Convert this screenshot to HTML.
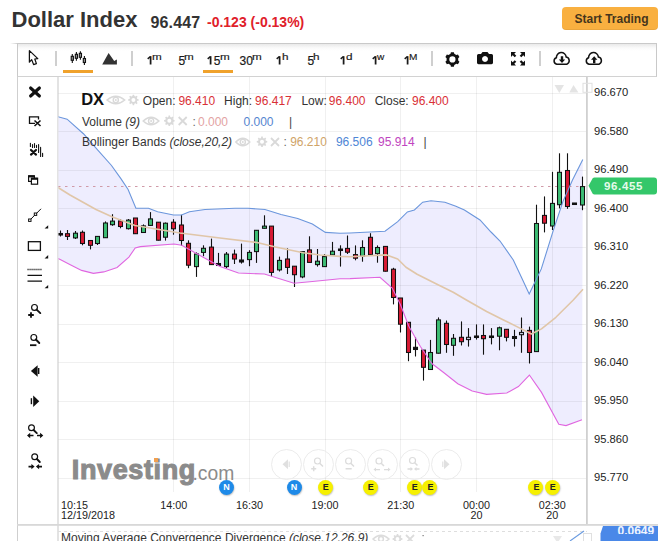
<!DOCTYPE html>
<html><head><meta charset="utf-8">
<style>
*{margin:0;padding:0;box-sizing:border-box}
html,body{width:658px;height:541px;overflow:hidden;background:#fff;font-family:"Liberation Sans",sans-serif;color:#222}
.a{position:absolute;white-space:nowrap;line-height:1}
.b{font-weight:bold}
#tb{position:absolute;left:17px;top:43px;width:640px;height:34px;border:1px solid #c9c9c9;border-bottom:1.5px solid #d2d2d2;background:linear-gradient(#e9e9e9 0px,#fafafa 4px,#fff 7px)}
.sep{position:absolute;top:51px;width:2px;height:15px;background:#cfcfcf}
.tf{position:absolute;top:54.6px;font-size:12px;line-height:1;color:#1a1a1a;white-space:nowrap;-webkit-text-stroke:0.2px #1a1a1a}
.tf sup{font-size:9px;vertical-align:baseline;position:relative;top:-5px;display:inline-block;transform:scaleX(1.3);transform-origin:0 50%;line-height:1;margin-left:-0.8px;-webkit-text-stroke:0.15px #1a1a1a}
.ul{position:absolute;top:70px;height:2.5px;background:#f0a22c}
.one{display:inline-block;width:6.67px;height:8.5px;position:relative;-webkit-text-stroke:0}
.one svg{position:absolute;left:0;top:0;overflow:visible}
.pl{position:absolute;left:594px;font-size:11.2px;line-height:1;color:#222}
.tl{position:absolute;font-size:10.8px;line-height:0.9;color:#222;text-align:center}
.ev{position:absolute;width:15px;height:15px;border-radius:50%;font-size:9px;font-weight:bold;line-height:15px;text-align:center;top:479.5px;box-shadow:0.5px 1px 1.5px rgba(0,0,0,0.25)}
.evE{background:#f6f000;color:#222;text-indent:1.5px}
.evN{background:#1e8ae8;color:#fff}
.nb{position:absolute;top:449px;width:31px;height:31px;border-radius:50%;border:1px solid #ececec;background:rgba(255,255,255,0.3)}
</style></head><body>
<!-- header -->
<div class="a b" style="left:11.5px;top:9px;font-size:22px;color:#333">Dollar Index</div>
<div class="a b" style="left:150.5px;top:15.4px;font-size:16px;color:#333;letter-spacing:0.15px">96.447</div>
<div class="a b" style="left:207px;top:14.9px;font-size:14px;color:#e0202a">-0.123 (-0.13%)</div>
<div style="position:absolute;left:562px;top:7px;width:95.5px;height:23px;border-radius:4px;background:#f9b040;box-shadow:inset 0 -1px 0 rgba(0,0,0,0.06)"></div>
<div class="a b" style="left:574.5px;top:13.2px;font-size:12px;color:#45351c">Start Trading</div>

<!-- outer left border -->
<div style="position:absolute;left:17px;top:43px;width:1px;height:498px;background:#cfcfcf"></div>
<div style="position:absolute;left:57px;top:77px;width:1.5px;height:464px;background:#e3e3e3"></div>
<div id="tb"></div>
<div style="position:absolute;left:10px;top:43px;width:8px;height:1px;background:linear-gradient(90deg,rgba(200,200,200,0),#c9c9c9)"></div>

<!-- chart svg -->
<svg style="position:absolute;left:0;top:0" width="658" height="541" viewBox="0 0 658 541">
<defs><clipPath id="cp"><rect x="58" y="77" width="529" height="447"/></clipPath></defs>
<g clip-path="url(#cp)">
<polygon points="58.0,116.8 67.1,119.2 83.7,134.0 96.7,148.8 111.5,165.5 120.7,178.4 128.1,189.5 135.9,208.3 148.5,208.3 157.6,211.7 173.5,215.0 181.5,215.0 189.5,211.7 205.0,209.5 235.0,208.2 248.0,208.3 265.0,209.5 281.0,214.5 297.7,218.5 312.4,224.0 325.4,232.4 340.0,233.3 350.0,233.0 385.0,231.3 397.7,221.6 407.4,211.9 414.4,210.0 422.7,202.2 431.0,200.8 444.9,202.2 455.9,206.3 464.4,210.0 480.0,220.0 491.0,232.0 500.0,241.0 513.3,260.0 522.0,278.5 529.2,294.0 541.3,268.9 553.3,230.4 562.9,201.6 572.5,180.0 582.8,159.6 582.0,419.8 566.0,425.6 558.8,424.2 541.5,392.4 529.4,375.0 518.4,386.6 506.8,393.0 486.6,394.4 472.2,391.0 457.8,383.7 443.3,372.2 431.8,363.5 420.2,346.2 408.7,326.0 400.5,304.8 392.2,288.1 380.0,277.3 350.0,278.6 340.0,278.8 312.4,281.5 294.0,283.2 264.4,274.0 238.5,273.0 220.0,266.5 205.0,258.3 181.7,245.3 174.0,244.0 140.3,246.6 135.2,248.0 128.9,257.1 117.1,267.5 103.8,271.9 93.4,273.4 81.6,270.4 69.8,264.5 60.2,259.6 58.0,258.5" fill="#eeedfe"/>
<line x1="58" y1="93.5" x2="587" y2="93.5" stroke="#000" stroke-opacity="0.06" stroke-width="1"/>
<line x1="58" y1="131.5" x2="587" y2="131.5" stroke="#000" stroke-opacity="0.06" stroke-width="1"/>
<line x1="58" y1="170.5" x2="587" y2="170.5" stroke="#000" stroke-opacity="0.06" stroke-width="1"/>
<line x1="58" y1="208.5" x2="587" y2="208.5" stroke="#000" stroke-opacity="0.06" stroke-width="1"/>
<line x1="58" y1="247.5" x2="587" y2="247.5" stroke="#000" stroke-opacity="0.06" stroke-width="1"/>
<line x1="58" y1="285.5" x2="587" y2="285.5" stroke="#000" stroke-opacity="0.06" stroke-width="1"/>
<line x1="58" y1="324.5" x2="587" y2="324.5" stroke="#000" stroke-opacity="0.06" stroke-width="1"/>
<line x1="58" y1="362.5" x2="587" y2="362.5" stroke="#000" stroke-opacity="0.06" stroke-width="1"/>
<line x1="58" y1="401.5" x2="587" y2="401.5" stroke="#000" stroke-opacity="0.06" stroke-width="1"/>
<line x1="58" y1="439.5" x2="587" y2="439.5" stroke="#000" stroke-opacity="0.06" stroke-width="1"/>
<line x1="58" y1="478.5" x2="587" y2="478.5" stroke="#000" stroke-opacity="0.06" stroke-width="1"/>
<line x1="173.5" y1="77" x2="173.5" y2="492" stroke="#000" stroke-opacity="0.06" stroke-width="1"/>
<line x1="249.5" y1="77" x2="249.5" y2="492" stroke="#000" stroke-opacity="0.06" stroke-width="1"/>
<line x1="325.5" y1="77" x2="325.5" y2="492" stroke="#000" stroke-opacity="0.06" stroke-width="1"/>
<line x1="400.5" y1="77" x2="400.5" y2="492" stroke="#000" stroke-opacity="0.06" stroke-width="1"/>
<line x1="476.5" y1="77" x2="476.5" y2="492" stroke="#000" stroke-opacity="0.06" stroke-width="1"/>
<line x1="552.5" y1="77" x2="552.5" y2="492" stroke="#000" stroke-opacity="0.06" stroke-width="1"/>
<line x1="58" y1="186.5" x2="587" y2="186.5" stroke="#d09aa8" stroke-width="1.2" stroke-dasharray="2.5,4.5"/>
<line x1="60.5" y1="230.5" x2="60.5" y2="236.5" stroke="#111" stroke-width="1.1"/>
<rect x="58.5" y="233.5" width="4" height="1.5" fill="#111" stroke="#111" stroke-width="1.05"/>
<line x1="67.5" y1="230.0" x2="67.5" y2="240.0" stroke="#111" stroke-width="1.1"/>
<rect x="65.5" y="233.7" width="4" height="2.7" fill="#d81a34" stroke="#111" stroke-width="1.05"/>
<line x1="75.5" y1="231.0" x2="75.5" y2="239.0" stroke="#111" stroke-width="1.1"/>
<rect x="73.5" y="233.2" width="4" height="4.7" fill="#3dbd74" stroke="#111" stroke-width="1.05"/>
<line x1="82.5" y1="230.5" x2="82.5" y2="245.3" stroke="#111" stroke-width="1.1"/>
<rect x="80.5" y="232.3" width="4" height="11.2" fill="#d81a34" stroke="#111" stroke-width="1.05"/>
<line x1="90.5" y1="240.0" x2="90.5" y2="249.4" stroke="#111" stroke-width="1.1"/>
<rect x="88.5" y="240.5" width="4" height="4.8" fill="#d81a34" stroke="#111" stroke-width="1.05"/>
<line x1="97.5" y1="236.0" x2="97.5" y2="245.0" stroke="#111" stroke-width="1.1"/>
<rect x="95.5" y="236.4" width="4" height="7.1" fill="#3dbd74" stroke="#111" stroke-width="1.05"/>
<line x1="105.5" y1="221.4" x2="105.5" y2="237.7" stroke="#111" stroke-width="1.1"/>
<rect x="103.5" y="223.0" width="4" height="14.7" fill="#3dbd74" stroke="#111" stroke-width="1.05"/>
<line x1="112.5" y1="214.2" x2="112.5" y2="225.8" stroke="#111" stroke-width="1.1"/>
<rect x="110.5" y="221.1" width="4" height="3.6" fill="#3dbd74" stroke="#111" stroke-width="1.05"/>
<line x1="120.5" y1="219.0" x2="120.5" y2="228.3" stroke="#111" stroke-width="1.1"/>
<rect x="118.5" y="220.9" width="4" height="5.6" fill="#d81a34" stroke="#111" stroke-width="1.05"/>
<line x1="128.5" y1="219.0" x2="128.5" y2="229.5" stroke="#111" stroke-width="1.1"/>
<rect x="126.5" y="220.1" width="4" height="8.6" fill="#3dbd74" stroke="#111" stroke-width="1.05"/>
<line x1="135.5" y1="218.0" x2="135.5" y2="234.0" stroke="#111" stroke-width="1.1"/>
<rect x="133.5" y="218.0" width="4" height="15.7" fill="#d81a34" stroke="#111" stroke-width="1.05"/>
<line x1="143.5" y1="224.4" x2="143.5" y2="233.0" stroke="#111" stroke-width="1.1"/>
<rect x="141.5" y="225.9" width="4" height="6.6" fill="#3dbd74" stroke="#111" stroke-width="1.05"/>
<line x1="150.5" y1="212.1" x2="150.5" y2="226.0" stroke="#111" stroke-width="1.1"/>
<rect x="148.5" y="218.9" width="4" height="6.5" fill="#3dbd74" stroke="#111" stroke-width="1.05"/>
<line x1="158.5" y1="222.0" x2="158.5" y2="240.5" stroke="#111" stroke-width="1.1"/>
<rect x="156.5" y="222.2" width="4" height="18.0" fill="#d81a34" stroke="#111" stroke-width="1.05"/>
<line x1="165.5" y1="222.5" x2="165.5" y2="240.6" stroke="#111" stroke-width="1.1"/>
<rect x="163.5" y="223.2" width="4" height="14.0" fill="#3dbd74" stroke="#111" stroke-width="1.05"/>
<line x1="173.5" y1="219.2" x2="173.5" y2="234.7" stroke="#111" stroke-width="1.1"/>
<rect x="171.5" y="222.2" width="4" height="6.6" fill="#d81a34" stroke="#111" stroke-width="1.05"/>
<line x1="181.5" y1="214.8" x2="181.5" y2="245.8" stroke="#111" stroke-width="1.1"/>
<rect x="179.5" y="225.0" width="4" height="15.5" fill="#d81a34" stroke="#111" stroke-width="1.05"/>
<line x1="188.5" y1="240.3" x2="188.5" y2="268.2" stroke="#111" stroke-width="1.1"/>
<rect x="186.5" y="243.3" width="4" height="21.9" fill="#d81a34" stroke="#111" stroke-width="1.05"/>
<line x1="196.5" y1="252.4" x2="196.5" y2="276.9" stroke="#111" stroke-width="1.1"/>
<rect x="194.5" y="254.0" width="4" height="12.6" fill="#3dbd74" stroke="#111" stroke-width="1.05"/>
<line x1="203.5" y1="245.3" x2="203.5" y2="256.2" stroke="#111" stroke-width="1.1"/>
<rect x="201.5" y="248.3" width="4" height="4.1" fill="#3dbd74" stroke="#111" stroke-width="1.05"/>
<line x1="211.5" y1="238.6" x2="211.5" y2="265.0" stroke="#111" stroke-width="1.1"/>
<rect x="209.5" y="247.1" width="4" height="17.5" fill="#d81a34" stroke="#111" stroke-width="1.05"/>
<line x1="218.5" y1="252.9" x2="218.5" y2="266.0" stroke="#111" stroke-width="1.1"/>
<rect x="216.5" y="263.5" width="4" height="2.0" fill="#111" stroke="#111" stroke-width="1.05"/>
<line x1="226.5" y1="252.0" x2="226.5" y2="268.2" stroke="#111" stroke-width="1.1"/>
<rect x="224.5" y="254.1" width="4" height="12.5" fill="#3dbd74" stroke="#111" stroke-width="1.05"/>
<line x1="234.5" y1="249.6" x2="234.5" y2="264.0" stroke="#111" stroke-width="1.1"/>
<rect x="232.5" y="254.1" width="4" height="4.9" fill="#d81a34" stroke="#111" stroke-width="1.05"/>
<line x1="241.5" y1="243.6" x2="241.5" y2="263.6" stroke="#111" stroke-width="1.1"/>
<rect x="239.5" y="260.0" width="4" height="2.0" fill="#111" stroke="#111" stroke-width="1.05"/>
<line x1="249.5" y1="250.2" x2="249.5" y2="266.2" stroke="#111" stroke-width="1.1"/>
<rect x="247.5" y="252.4" width="4" height="7.2" fill="#3dbd74" stroke="#111" stroke-width="1.05"/>
<line x1="256.5" y1="230.0" x2="256.5" y2="262.9" stroke="#111" stroke-width="1.1"/>
<rect x="254.5" y="230.3" width="4" height="21.3" fill="#3dbd74" stroke="#111" stroke-width="1.05"/>
<line x1="264.5" y1="215.3" x2="264.5" y2="228.5" stroke="#111" stroke-width="1.1"/>
<rect x="262.5" y="226.1" width="4" height="2.2" fill="#3dbd74" stroke="#111" stroke-width="1.05"/>
<line x1="271.5" y1="226.0" x2="271.5" y2="276.2" stroke="#111" stroke-width="1.1"/>
<rect x="269.5" y="226.1" width="4" height="46.3" fill="#d81a34" stroke="#111" stroke-width="1.05"/>
<line x1="279.5" y1="256.6" x2="279.5" y2="271.5" stroke="#111" stroke-width="1.1"/>
<rect x="277.5" y="260.4" width="4" height="9.5" fill="#3dbd74" stroke="#111" stroke-width="1.05"/>
<line x1="287.5" y1="248.3" x2="287.5" y2="274.0" stroke="#111" stroke-width="1.1"/>
<rect x="285.5" y="259.0" width="4" height="8.4" fill="#d81a34" stroke="#111" stroke-width="1.05"/>
<line x1="294.5" y1="266.0" x2="294.5" y2="287.0" stroke="#111" stroke-width="1.1"/>
<rect x="292.5" y="266.2" width="4" height="8.5" fill="#d81a34" stroke="#111" stroke-width="1.05"/>
<line x1="302.5" y1="251.5" x2="302.5" y2="278.2" stroke="#111" stroke-width="1.1"/>
<rect x="300.5" y="251.6" width="4" height="25.3" fill="#3dbd74" stroke="#111" stroke-width="1.05"/>
<line x1="309.5" y1="236.3" x2="309.5" y2="262.5" stroke="#111" stroke-width="1.1"/>
<rect x="307.5" y="249.9" width="4" height="12.5" fill="#d81a34" stroke="#111" stroke-width="1.05"/>
<line x1="317.5" y1="249.0" x2="317.5" y2="266.6" stroke="#111" stroke-width="1.1"/>
<rect x="315.5" y="261.2" width="4" height="3.4" fill="#3dbd74" stroke="#111" stroke-width="1.05"/>
<line x1="324.5" y1="254.0" x2="324.5" y2="266.8" stroke="#111" stroke-width="1.1"/>
<rect x="322.5" y="256.6" width="4" height="10.0" fill="#3dbd74" stroke="#111" stroke-width="1.05"/>
<line x1="332.5" y1="241.9" x2="332.5" y2="255.5" stroke="#111" stroke-width="1.1"/>
<rect x="330.5" y="251.2" width="4" height="3.7" fill="#3dbd74" stroke="#111" stroke-width="1.05"/>
<line x1="340.5" y1="245.3" x2="340.5" y2="266.6" stroke="#111" stroke-width="1.1"/>
<rect x="338.5" y="249.0" width="4" height="1.5" fill="#111" stroke="#111" stroke-width="1.05"/>
<line x1="347.5" y1="235.5" x2="347.5" y2="254.0" stroke="#111" stroke-width="1.1"/>
<rect x="345.5" y="248.4" width="4" height="3.8" fill="#d81a34" stroke="#111" stroke-width="1.05"/>
<line x1="355.5" y1="245.4" x2="355.5" y2="260.3" stroke="#111" stroke-width="1.1"/>
<rect x="353.5" y="254.6" width="4" height="3.6" fill="#d81a34" stroke="#111" stroke-width="1.05"/>
<line x1="362.5" y1="240.3" x2="362.5" y2="261.7" stroke="#111" stroke-width="1.1"/>
<rect x="360.5" y="247.5" width="4" height="8.7" fill="#3dbd74" stroke="#111" stroke-width="1.05"/>
<line x1="370.5" y1="233.2" x2="370.5" y2="255.0" stroke="#111" stroke-width="1.1"/>
<rect x="368.5" y="237.3" width="4" height="17.3" fill="#d81a34" stroke="#111" stroke-width="1.05"/>
<line x1="377.5" y1="245.4" x2="377.5" y2="262.7" stroke="#111" stroke-width="1.1"/>
<rect x="375.5" y="247.5" width="4" height="6.1" fill="#3dbd74" stroke="#111" stroke-width="1.05"/>
<line x1="385.5" y1="246.0" x2="385.5" y2="271.5" stroke="#111" stroke-width="1.1"/>
<rect x="383.5" y="246.4" width="4" height="24.8" fill="#d81a34" stroke="#111" stroke-width="1.05"/>
<line x1="393.5" y1="267.8" x2="393.5" y2="304.4" stroke="#111" stroke-width="1.1"/>
<rect x="391.5" y="269.2" width="4" height="28.3" fill="#d81a34" stroke="#111" stroke-width="1.05"/>
<line x1="400.5" y1="298.0" x2="400.5" y2="332.5" stroke="#111" stroke-width="1.1"/>
<rect x="398.5" y="298.0" width="4" height="26.2" fill="#d81a34" stroke="#111" stroke-width="1.05"/>
<line x1="408.5" y1="322.0" x2="408.5" y2="361.2" stroke="#111" stroke-width="1.1"/>
<rect x="406.5" y="322.3" width="4" height="30.2" fill="#d81a34" stroke="#111" stroke-width="1.05"/>
<line x1="415.5" y1="337.1" x2="415.5" y2="356.5" stroke="#111" stroke-width="1.1"/>
<rect x="413.5" y="347.3" width="4" height="2.2" fill="#111" stroke="#111" stroke-width="1.05"/>
<line x1="423.5" y1="350.0" x2="423.5" y2="380.6" stroke="#111" stroke-width="1.1"/>
<rect x="421.5" y="350.1" width="4" height="17.2" fill="#d81a34" stroke="#111" stroke-width="1.05"/>
<line x1="430.5" y1="339.9" x2="430.5" y2="369.8" stroke="#111" stroke-width="1.1"/>
<rect x="428.5" y="352.5" width="4" height="17.0" fill="#3dbd74" stroke="#111" stroke-width="1.05"/>
<line x1="438.5" y1="317.4" x2="438.5" y2="353.5" stroke="#111" stroke-width="1.1"/>
<rect x="436.5" y="319.9" width="4" height="33.3" fill="#3dbd74" stroke="#111" stroke-width="1.05"/>
<line x1="446.5" y1="320.5" x2="446.5" y2="352.8" stroke="#111" stroke-width="1.1"/>
<rect x="444.5" y="323.3" width="4" height="21.2" fill="#d81a34" stroke="#111" stroke-width="1.05"/>
<line x1="453.5" y1="334.0" x2="453.5" y2="355.8" stroke="#111" stroke-width="1.1"/>
<rect x="451.5" y="338.3" width="4" height="7.0" fill="#3dbd74" stroke="#111" stroke-width="1.05"/>
<line x1="461.5" y1="321.4" x2="461.5" y2="345.5" stroke="#111" stroke-width="1.1"/>
<rect x="459.5" y="337.3" width="4" height="4.4" fill="#d81a34" stroke="#111" stroke-width="1.05"/>
<line x1="468.5" y1="328.1" x2="468.5" y2="346.6" stroke="#111" stroke-width="1.1"/>
<rect x="466.5" y="337.3" width="4" height="2.3" fill="#c8cce0" stroke="#111" stroke-width="1.05"/>
<line x1="476.5" y1="324.4" x2="476.5" y2="339.6" stroke="#111" stroke-width="1.1"/>
<rect x="474.5" y="336.0" width="4" height="1.5" fill="#111" stroke="#111" stroke-width="1.05"/>
<line x1="483.5" y1="324.4" x2="483.5" y2="354.7" stroke="#111" stroke-width="1.1"/>
<rect x="481.5" y="335.5" width="4" height="3.2" fill="#d81a34" stroke="#111" stroke-width="1.05"/>
<line x1="491.5" y1="328.1" x2="491.5" y2="344.4" stroke="#111" stroke-width="1.1"/>
<rect x="489.5" y="336.0" width="4" height="1.5" fill="#111" stroke="#111" stroke-width="1.05"/>
<line x1="499.5" y1="326.6" x2="499.5" y2="350.3" stroke="#111" stroke-width="1.1"/>
<rect x="497.5" y="327.8" width="4" height="8.4" fill="#3dbd74" stroke="#111" stroke-width="1.05"/>
<line x1="506.5" y1="329.0" x2="506.5" y2="341.4" stroke="#111" stroke-width="1.1"/>
<rect x="504.5" y="329.3" width="4" height="8.0" fill="#d81a34" stroke="#111" stroke-width="1.05"/>
<line x1="514.5" y1="329.8" x2="514.5" y2="346.6" stroke="#111" stroke-width="1.1"/>
<rect x="512.5" y="336.5" width="4" height="2.0" fill="#111" stroke="#111" stroke-width="1.05"/>
<line x1="521.5" y1="317.5" x2="521.5" y2="352.8" stroke="#111" stroke-width="1.1"/>
<rect x="519.5" y="332.4" width="4" height="2.3" fill="#c8cce0" stroke="#111" stroke-width="1.05"/>
<line x1="529.5" y1="326.6" x2="529.5" y2="363.5" stroke="#111" stroke-width="1.1"/>
<rect x="527.5" y="330.4" width="4" height="22.1" fill="#d81a34" stroke="#111" stroke-width="1.05"/>
<line x1="536.5" y1="204.7" x2="536.5" y2="352.0" stroke="#111" stroke-width="1.1"/>
<rect x="534.5" y="223.5" width="4" height="128.1" fill="#3dbd74" stroke="#111" stroke-width="1.05"/>
<line x1="544.5" y1="196.4" x2="544.5" y2="232.4" stroke="#111" stroke-width="1.1"/>
<rect x="542.5" y="215.4" width="4" height="7.8" fill="#d81a34" stroke="#111" stroke-width="1.05"/>
<line x1="552.5" y1="171.8" x2="552.5" y2="230.0" stroke="#111" stroke-width="1.1"/>
<rect x="550.5" y="203.4" width="4" height="22.6" fill="#3dbd74" stroke="#111" stroke-width="1.05"/>
<line x1="559.5" y1="153.3" x2="559.5" y2="208.4" stroke="#111" stroke-width="1.1"/>
<rect x="557.5" y="172.3" width="4" height="32.4" fill="#3dbd74" stroke="#111" stroke-width="1.05"/>
<line x1="567.5" y1="153.3" x2="567.5" y2="208.8" stroke="#111" stroke-width="1.1"/>
<rect x="565.5" y="170.5" width="4" height="36.0" fill="#d81a34" stroke="#111" stroke-width="1.05"/>
<line x1="574.5" y1="203.0" x2="574.5" y2="204.5" stroke="#111" stroke-width="1.1"/>
<rect x="572.5" y="203.0" width="4" height="1.5" fill="#111" stroke="#111" stroke-width="1.05"/>
<line x1="582.5" y1="176.6" x2="582.5" y2="210.2" stroke="#111" stroke-width="1.1"/>
<rect x="580.5" y="186.6" width="4" height="18.4" fill="#3dbd74" stroke="#111" stroke-width="1.05"/>
<polyline points="58.0,116.8 67.1,119.2 83.7,134.0 96.7,148.8 111.5,165.5 120.7,178.4 128.1,189.5 135.9,208.3 148.5,208.3 157.6,211.7 173.5,215.0 181.5,215.0 189.5,211.7 205.0,209.5 235.0,208.2 248.0,208.3 265.0,209.5 281.0,214.5 297.7,218.5 312.4,224.0 325.4,232.4 340.0,233.3 350.0,233.0 385.0,231.3 397.7,221.6 407.4,211.9 414.4,210.0 422.7,202.2 431.0,200.8 444.9,202.2 455.9,206.3 464.4,210.0 480.0,220.0 491.0,232.0 500.0,241.0 513.3,260.0 522.0,278.5 529.2,294.0 541.3,268.9 553.3,230.4 562.9,201.6 572.5,180.0 582.8,159.6" fill="none" stroke="#6b96dc" stroke-width="1.1"/>
<polyline points="58.0,187.5 70.0,195.0 96.0,209.5 112.5,217.0 135.0,225.5 180.0,233.0 220.0,238.0 257.0,242.5 275.5,247.0 303.2,252.7 320.0,255.0 340.0,256.4 350.0,256.8 386.6,254.9 397.7,259.0 406.0,267.3 417.1,274.3 436.5,284.0 453.2,292.3 466.4,300.0 486.6,311.5 504.0,320.2 521.3,328.9 531.4,334.0 541.5,328.9 555.9,317.3 573.3,300.0 583.0,289.3" fill="none" stroke="#e0c6a8" stroke-width="1.6" stroke-linejoin="round"/>
<polyline points="58.0,258.5 60.2,259.6 69.8,264.5 81.6,270.4 93.4,273.4 103.8,271.9 117.1,267.5 128.9,257.1 135.2,248.0 140.3,246.6 174.0,244.0 181.7,245.3 205.0,258.3 220.0,266.5 238.5,273.0 264.4,274.0 294.0,283.2 312.4,281.5 340.0,278.8 350.0,278.6 380.0,277.3 392.2,288.1 400.5,304.8 408.7,326.0 420.2,346.2 431.8,363.5 443.3,372.2 457.8,383.7 472.2,391.0 486.6,394.4 506.8,393.0 518.4,386.6 529.4,375.0 541.5,392.4 558.8,424.2 566.0,425.6 582.0,419.8" fill="none" stroke="#e066e0" stroke-width="1.1"/>
</g>
<!-- left column border -->
<rect x="57" y="77" width="1.5" height="447" fill="#e3e3e3"/>
<!-- axis line -->
<rect x="586" y="77" width="1.8" height="447" fill="#d0d0d0"/>
<!-- bottom time axis line -->
<rect x="17" y="524" width="641" height="1.8" fill="#d8d8d8"/>
<line x1="58" y1="531.5" x2="587" y2="531.5" stroke="#dedede" stroke-width="1" stroke-dasharray="3,3"/>
</svg>

<!-- toolbar icons -->
<svg style="position:absolute;left:0;top:0" width="658" height="80" viewBox="0 0 658 80">
<!-- cursor -->
<path d="M29.4,50.6 L29.4,62.2 L31.7,59.6 L33.6,64.6 L36.4,63.6 L34.8,59 L37.8,58.6 Z" fill="#fff" stroke="#111" stroke-width="1.25" stroke-linejoin="round"/>
<!-- candle icon -->
<g stroke="#111" fill="#999">
<line x1="72.3" y1="54" x2="72.3" y2="62.9" stroke-width="1.1"/><rect x="71.2" y="56.3" width="2.2" height="4" stroke-width="1.1"/>
<line x1="76.4" y1="52" x2="76.4" y2="60.7" stroke-width="1.1"/><rect x="75.3" y="54.3" width="2.2" height="4" stroke-width="1.1"/>
<line x1="80.4" y1="51.2" x2="80.4" y2="59.8" stroke-width="1.1"/><rect x="79.3" y="53.3" width="2.2" height="4" stroke-width="1.1"/>
<line x1="84.4" y1="56" x2="84.4" y2="64.9" stroke-width="1.1"/><rect x="83.3" y="58.5" width="2.2" height="4" stroke-width="1.1"/>
</g>
<!-- mountain -->
<path d="M102.2,64.6 L108.6,53 L114.2,61 L116.9,59.6 L116.9,64.6 Z" fill="#333"/>
<!-- gear -->
<path fill="#111" fill-rule="evenodd" d="M450.52,53.81 L450.92,52.15 L453.88,52.15 L454.28,53.81 L456.30,54.97 L457.94,54.49 L459.42,57.06 L458.18,58.23 L458.18,60.57 L459.42,61.74 L457.94,64.31 L456.30,63.83 L454.28,64.99 L453.88,66.65 L450.92,66.65 L450.52,64.99 L448.50,63.83 L446.86,64.31 L445.38,61.74 L446.62,60.57 L446.62,58.23 L445.38,57.06 L446.86,54.49 L448.50,54.97 Z M455.50,59.40 A3.10,3.10 0 1 0 449.30,59.40 A3.10,3.10 0 1 0 455.50,59.40 Z"/>
<!-- camera -->
<path fill="#111" fill-rule="evenodd" d="M477,55.5 Q477,54 478.5,54 L481,54 L482.5,52 L487.5,52 L489,54 L491.5,54 Q493,54 493,55.5 L493,62.8 Q493,64.2 491.5,64.2 L478.5,64.2 Q477,64.2 477,62.8 Z M485,56 A3,3 0 1 0 485.01,56 Z"/>
<!-- fullscreen -->
<g fill="#111">
<path d="M511,52 L516,52 L514.3,53.7 L516.3,55.7 L514.7,57.3 L512.7,55.3 L511,57 Z"/>
<path d="M525,52 L520,52 L521.7,53.7 L519.7,55.7 L521.3,57.3 L523.3,55.3 L525,57 Z"/>
<path d="M511,65.5 L516,65.5 L514.3,63.8 L516.3,61.8 L514.7,60.2 L512.7,62.2 L511,60.5 Z"/>
<path d="M525,65.5 L520,65.5 L521.7,63.8 L519.7,61.8 L521.3,60.2 L523.3,62.2 L525,60.5 Z"/>
</g>
<!-- cloud down -->
<g transform="translate(562,59.2)">
<path d="M-5.2,5 A3.3,3.3 0 0 1 -5.6,-1.4 A4.9,4.9 0 0 1 4.2,-2.1 A3.7,3.7 0 0 1 4.8,5 Z" fill="#fff" stroke="#111" stroke-width="1.5" stroke-linejoin="round"/>
<path d="M-1.2,-3 L1.2,-3 L1.2,0.3 L3.2,0.3 L0,3.8 L-3.2,0.3 L-1.2,0.3 Z" fill="#111"/>
</g>
<g transform="translate(594.2,59.2)">
<path d="M-5.2,5 A3.3,3.3 0 0 1 -5.6,-1.4 A4.9,4.9 0 0 1 4.2,-2.1 A3.7,3.7 0 0 1 4.8,5 Z" fill="#fff" stroke="#111" stroke-width="1.5" stroke-linejoin="round"/>
<path d="M-1.2,4 L1.2,4 L1.2,0.5 L3.2,0.5 L0,-3 L-3.2,0.5 L-1.2,0.5 Z" fill="#111"/>
</g>
</svg>
<div class="sep" style="left:55px"></div>
<div class="sep" style="left:131px"></div>
<div class="sep" style="left:431px"></div>
<div class="sep" style="left:539px"></div>
<div class="ul" style="left:63px;width:30px"></div>
<div class="ul" style="left:203px;width:30px"></div>
<div class="tf" style="left:146.5px"><span class="one"><svg width="7" height="9"><path d="M3.6,0.2 V8.5" stroke="#1a1a1a" stroke-width="1.75"/><path d="M3.5,0.5 L0.7,2.9" stroke="#1a1a1a" stroke-width="1.5"/></svg></span><sup>m</sup></div>
<div class="tf" style="left:178.5px">5<sup>m</sup></div>
<div class="tf" style="left:207px"><span class="one"><svg width="7" height="9"><path d="M3.6,0.2 V8.5" stroke="#1a1a1a" stroke-width="1.75"/><path d="M3.5,0.5 L0.7,2.9" stroke="#1a1a1a" stroke-width="1.5"/></svg></span>5<sup>m</sup></div>
<div class="tf" style="left:239.5px">30<sup>m</sup></div>
<div class="tf" style="left:276px"><span class="one"><svg width="7" height="9"><path d="M3.6,0.2 V8.5" stroke="#1a1a1a" stroke-width="1.75"/><path d="M3.5,0.5 L0.7,2.9" stroke="#1a1a1a" stroke-width="1.5"/></svg></span><sup>h</sup></div>
<div class="tf" style="left:307.5px">5<sup>h</sup></div>
<div class="tf" style="left:340px"><span class="one"><svg width="7" height="9"><path d="M3.6,0.2 V8.5" stroke="#1a1a1a" stroke-width="1.75"/><path d="M3.5,0.5 L0.7,2.9" stroke="#1a1a1a" stroke-width="1.5"/></svg></span><sup>d</sup></div>
<div class="tf" style="left:371.5px"><span class="one"><svg width="7" height="9"><path d="M3.6,0.2 V8.5" stroke="#1a1a1a" stroke-width="1.75"/><path d="M3.5,0.5 L0.7,2.9" stroke="#1a1a1a" stroke-width="1.5"/></svg></span><sup style="transform:scaleX(1.12)">w</sup></div>
<div class="tf" style="left:403.5px"><span class="one"><svg width="7" height="9"><path d="M3.6,0.2 V8.5" stroke="#1a1a1a" stroke-width="1.75"/><path d="M3.5,0.5 L0.7,2.9" stroke="#1a1a1a" stroke-width="1.5"/></svg></span><sup style="transform:scaleX(1.12)">M</sup></div>

<!-- left tools -->
<svg style="position:absolute;left:17px;top:77px" width="41" height="447" viewBox="17 77 41 447">
<g stroke="#111" fill="none">
<path d="M30.6,88 L39.4,96 M39.4,88 L30.6,96" stroke-width="3.1" stroke-linecap="round"/>
<path d="M35,123.4 L29.5,123.4 L29.5,116.8 L38.5,116.8 L38.5,119.5" stroke-width="1.3"/>
<path d="M34.5,120.5 L40.5,126 M40.5,120.5 L34.5,126" stroke-width="1.6"/>
<path d="M30.4,143.3 V146.5 M32.5,144.5 V147.4 M34.5,143.5 V147.4 M36.5,145.4 V147.4 M38.6,144.5 V152.4 M40.6,147.4 V156.4 M42.6,153.3 V156.4" stroke-width="1.1" stroke-linecap="round"/>
<path d="M31,150 L36,154.6 M36,150 L31,154.6" stroke-width="2.2" stroke-linecap="round"/>
<rect x="28.6" y="175.8" width="5.8" height="5.6" stroke-width="1.2"/>
<path d="M28.6,176.4 H34.4" stroke-width="2"/>
<rect x="31.4" y="178.2" width="6.2" height="6" fill="#fff" stroke-width="1.2"/>
<path d="M31.4,178.8 H37.6" stroke-width="2"/>
<path d="M29.5,220.5 L41,208.8" stroke-width="1"/>
<rect x="28.6" y="219" width="2.4" height="2.4" fill="#fff" stroke-width="1"/>
<rect x="34.3" y="213" width="2.4" height="2.4" fill="#fff" stroke-width="1"/>
<rect x="28.4" y="241.7" width="12" height="8.7" stroke-width="1.3"/>
<path d="M27.5,269.5 H42" stroke-width="1.4" stroke-dasharray="1.1,0.9"/>
<path d="M27.5,275.3 H42 M27.5,281.2 H42" stroke-width="1.2"/>
<circle cx="34.5" cy="307.4" r="2.9" stroke-width="1.2"/>
<path d="M36.6,309.6 L40.3,313.1" stroke-width="1.9" stroke-linecap="round"/>
<path d="M28.2,315 H33.8 M31,312.2 V317.8" stroke-width="1.8"/>
<circle cx="33.8" cy="337.4" r="2.9" stroke-width="1.2"/>
<path d="M35.9,339.5 L39.3,343" stroke-width="1.9" stroke-linecap="round"/>
<path d="M30,345.2 H36.4" stroke-width="1.8"/>
<circle cx="31.5" cy="427.8" r="2.9" stroke-width="1.2"/>
<path d="M33.6,430 L36.8,433.1" stroke-width="1.9" stroke-linecap="round"/>
<path d="M28.5,435.5 H33.5 M37,435.5 H42" stroke-width="1.6"/>
<circle cx="34.7" cy="456.8" r="2.9" stroke-width="1.2"/>
<path d="M36.9,459 L39.8,462" stroke-width="1.9" stroke-linecap="round"/>
<path d="M28.5,466.6 H33 M37.5,466.6 H42" stroke-width="1.6"/>
</g>
<g fill="#111">
<path d="M44.6,228.5 L48.2,228.5 L48.2,225.2 Z"/>
<path d="M44.6,258.4 L48.2,258.4 L48.2,255.1 Z"/>
<path d="M44.6,288.2 L48.2,288.2 L48.2,284.9 Z"/>
<path d="M30.9,371 L37.6,365.3 L37.6,376.7 Z"/>
<rect x="38" y="368" width="1.4" height="6"/>
<path d="M39.3,401.3 L33.2,395.5 L33.2,407 Z"/>
<rect x="30.7" y="398.2" width="1.4" height="6"/>
<path d="M27,435.5 L30.2,432.8 L30.2,438.2 Z M43.3,435.5 L40.1,432.8 L40.1,438.2 Z"/>
<path d="M34.6,466.6 L31.4,463.9 L31.4,469.3 Z M35.9,466.6 L39.1,463.9 L39.1,469.3 Z"/>
</g>
</svg>

<!-- legend -->
<div class="a b" style="left:81.2px;top:90.7px;font-size:16.5px;color:#111">DX</div>
<svg style="position:absolute;left:100px;top:84px" width="200" height="70" viewBox="100 84 200 70">
<g>
<path d="M107.0,100.0 Q115.8,92.5 124.7,100.0 Q115.8,107.5 107.0,100.0 Z" fill="none" stroke="#d9d9d9" stroke-width="1.5"/><circle cx="115.8" cy="100.0" r="2.6" fill="none" stroke="#d9d9d9" stroke-width="1.4"/><circle cx="115.8" cy="100.0" r="1" fill="#d9d9d9"/>
<path fill="#d9d9d9" fill-rule="evenodd" d="M132.47,96.01 L132.63,94.66 L134.17,94.66 L134.33,96.01 L135.49,96.49 L136.56,95.65 L137.65,96.74 L136.81,97.81 L137.29,98.97 L138.64,99.13 L138.64,100.67 L137.29,100.83 L136.81,101.99 L137.65,103.06 L136.56,104.15 L135.49,103.31 L134.33,103.79 L134.17,105.14 L132.63,105.14 L132.47,103.79 L131.31,103.31 L130.24,104.15 L129.15,103.06 L129.99,101.99 L129.51,100.83 L128.16,100.67 L128.16,99.13 L129.51,98.97 L129.99,97.81 L129.15,96.74 L130.24,95.65 L131.31,96.49 Z M135.40,99.90 A2.00,2.00 0 1 0 131.40,99.90 A2.00,2.00 0 1 0 135.40,99.90 Z"/>
<path d="M143.2,121.0 Q151.1,113.5 158.9,121.0 Q151.1,128.5 143.2,121.0 Z" fill="none" stroke="#d9d9d9" stroke-width="1.5"/><circle cx="151.1" cy="121.0" r="2.6" fill="none" stroke="#d9d9d9" stroke-width="1.4"/><circle cx="151.1" cy="121.0" r="1" fill="#d9d9d9"/>
<path fill="#d9d9d9" fill-rule="evenodd" d="M168.37,116.91 L168.53,115.56 L170.07,115.56 L170.23,116.91 L171.39,117.39 L172.46,116.55 L173.55,117.64 L172.71,118.71 L173.19,119.87 L174.54,120.03 L174.54,121.57 L173.19,121.73 L172.71,122.89 L173.55,123.96 L172.46,125.05 L171.39,124.21 L170.23,124.69 L170.07,126.04 L168.53,126.04 L168.37,124.69 L167.21,124.21 L166.14,125.05 L165.05,123.96 L165.89,122.89 L165.41,121.73 L164.06,121.57 L164.06,120.03 L165.41,119.87 L165.89,118.71 L165.05,117.64 L166.14,116.55 L167.21,117.39 Z M171.30,120.80 A2.00,2.00 0 1 0 167.30,120.80 A2.00,2.00 0 1 0 171.30,120.80 Z"/>
<path d="M178.7,117.0 L186.7,125.0 M186.7,117.0 L178.7,125.0" stroke="#d9d9d9" stroke-width="1.8" fill="none"/>
<path d="M235.8,142.0 Q242.8,134.5 249.8,142.0 Q242.8,149.5 235.8,142.0 Z" fill="none" stroke="#d9d9d9" stroke-width="1.5"/><circle cx="242.8" cy="142.0" r="2.6" fill="none" stroke="#d9d9d9" stroke-width="1.4"/><circle cx="242.8" cy="142.0" r="1" fill="#d9d9d9"/>
<path fill="#d9d9d9" fill-rule="evenodd" d="M261.07,137.91 L261.23,136.56 L262.77,136.56 L262.93,137.91 L264.09,138.39 L265.16,137.55 L266.25,138.64 L265.41,139.71 L265.89,140.87 L267.24,141.03 L267.24,142.57 L265.89,142.73 L265.41,143.89 L266.25,144.96 L265.16,146.05 L264.09,145.21 L262.93,145.69 L262.77,147.04 L261.23,147.04 L261.07,145.69 L259.91,145.21 L258.84,146.05 L257.75,144.96 L258.59,143.89 L258.11,142.73 L256.76,142.57 L256.76,141.03 L258.11,140.87 L258.59,139.71 L257.75,138.64 L258.84,137.55 L259.91,138.39 Z M264.00,141.80 A2.00,2.00 0 1 0 260.00,141.80 A2.00,2.00 0 1 0 264.00,141.80 Z"/>
<path d="M271.0,138.0 L279.0,146.0 M279.0,138.0 L271.0,146.0" stroke="#d9d9d9" stroke-width="1.8" fill="none"/>
</g>
</svg>
<div class="a" style="left:142.8px;top:94.6px;font-size:12px;color:#333">Open:</div>
<div class="a" style="left:178.4px;top:94.6px;font-size:12px;color:#d93036">96.410</div>
<div class="a" style="left:224.1px;top:94.6px;font-size:12px;color:#333">High:</div>
<div class="a" style="left:255.1px;top:94.6px;font-size:12px;color:#d93036">96.417</div>
<div class="a" style="left:301.4px;top:94.6px;font-size:12px;color:#333">Low:</div>
<div class="a" style="left:328.8px;top:94.6px;font-size:12px;color:#d93036">96.400</div>
<div class="a" style="left:374.7px;top:94.6px;font-size:12px;color:#333">Close:</div>
<div class="a" style="left:412px;top:94.6px;font-size:12px;color:#d93036">96.400</div>

<div class="a" style="left:82px;top:116px;font-size:12px;color:#333">Volume <i>(9)</i></div>
<div class="a" style="left:192.5px;top:116px;font-size:12px;color:#666">:</div>
<div class="a" style="left:198px;top:116px;font-size:12px;color:#e3a3a3">0.000</div>
<div class="a" style="left:243.5px;top:116px;font-size:12px;color:#5585d0">0.000</div>
<div class="a" style="left:289px;top:116px;font-size:12px;color:#444">|</div>

<div class="a" style="left:82px;top:136px;font-size:12px;color:#333">Bollinger Bands <i>(close,20,2)</i></div>
<div class="a" style="left:283.5px;top:136px;font-size:12px;color:#666">:</div>
<div class="a" style="left:290.2px;top:136px;font-size:12px;color:#d0a468">96.210</div>
<div class="a" style="left:335.9px;top:136px;font-size:12px;color:#4f86d6">96.506</div>
<div class="a" style="left:378px;top:136px;font-size:12px;color:#c045c0">95.914</div>
<div class="a" style="left:423.5px;top:136px;font-size:12px;color:#444">|</div>

<!-- corner icons -->
<svg style="position:absolute;left:550px;top:80px" width="45" height="16" viewBox="550 80 45 16">
<path d="M554.5,85 L564,85 L559.3,93 Z" fill="#e4e4e4"/>
<path d="M569.3,92.4 L573.5,85 L578.4,92.4 Z" fill="#e4e4e4"/>
<rect x="583" y="83.3" width="9" height="9" fill="none" stroke="#e0e0e0" stroke-width="1"/>
</svg>

<!-- price labels -->
<div class="pl" style="top:87px">96.670</div>
<div class="pl" style="top:125.5px">96.580</div>
<div class="pl" style="top:164px">96.490</div>
<div class="pl" style="top:202.5px">96.400</div>
<div class="pl" style="top:241px">96.310</div>
<div class="pl" style="top:279.5px">96.220</div>
<div class="pl" style="top:318px">96.130</div>
<div class="pl" style="top:356.5px">96.040</div>
<div class="pl" style="top:395px">95.950</div>
<div class="pl" style="top:433.5px">95.860</div>
<div class="pl" style="top:472px">95.770</div>
<svg style="position:absolute;left:586px;top:176px" width="72" height="20" viewBox="586 176 72 20">
<path d="M588.5,185.8 L592,179.5 Q592.5,177.5 594.5,177.5 L654,177.5 Q657,177.5 657,180.5 L657,191.5 Q657,194.5 654,194.5 L594.5,194.5 Q592.5,194.5 592,192.5 Z" fill="#34c76a"/>
</svg>
<div class="a b" style="left:604px;top:180.5px;font-size:11.5px;letter-spacing:0.65px;color:#e6fbea">96.455</div>

<!-- watermark -->
<div class="a b" style="left:71.8px;top:456.6px;font-size:27px;color:#8b8b8b;letter-spacing:0.62px;-webkit-text-stroke:1.1px #8b8b8b">Investing</div>
<div class="a" style="left:192.5px;top:464px;font-size:19.3px;color:#8b8b8b">.com</div>
<div id="idot" style="position:absolute;left:154px;top:458.2px;width:4px;height:4px;background:#f0a050"></div>
<!-- nav buttons -->
<div class="nb" style="left:271px"></div>
<div class="nb" style="left:303px"></div>
<div class="nb" style="left:334.5px"></div>
<div class="nb" style="left:366.5px"></div>
<div class="nb" style="left:398.5px"></div>
<div class="nb" style="left:430.5px"></div>
<svg style="position:absolute;left:270px;top:448px" width="195" height="34" viewBox="270 448 195 34">
<g fill="#e0e0e0">
<path d="M282.5,464.3 L288,459.3 L288,469.3 Z"/><rect x="288.6" y="461.5" width="1.2" height="5.5"/>
<path d="M449.5,464.3 L444,459.3 L444,469.3 Z"/><rect x="442.2" y="461.5" width="1.2" height="5.5"/>
</g>
<g fill="none" stroke="#dcdcdc" stroke-width="1.2">
<circle cx="317.5" cy="461" r="3"/><path d="M319.7,463.2 L323,466.5 M311.2,468.8 H316.2 M313.7,466.3 V471.3" stroke-width="1.5"/>
<circle cx="348.6" cy="461" r="3"/><path d="M350.8,463.2 L354,466.5 M345.6,468.8 H351.7" stroke-width="1.5"/>
<circle cx="379" cy="461" r="3"/><path d="M381.2,463.2 L384,466" stroke-width="1.5"/><path d="M375,469.6 H380 M384,469.6 H389" stroke-width="1.3"/>
<circle cx="412.5" cy="460.5" r="3"/><path d="M414.7,462.7 L417.5,465.5" stroke-width="1.5"/><path d="M407.5,469 H412 M415,469 H419.5" stroke-width="1.3"/>
</g>
<g fill="#dcdcdc">
<path d="M373.5,469.6 L376,467.6 L376,471.6 Z M390.5,469.6 L388,467.6 L388,471.6 Z"/>
<path d="M413,469 L410.5,467 L410.5,471 Z M414,469 L416.5,467 L416.5,471 Z"/>
</g>
</svg>

<!-- events -->
<div class="ev evN" style="left:218.9px">N</div>
<div class="ev evN" style="left:286.5px">N</div>
<div class="ev evE" style="left:317.5px">E</div>
<div class="ev evE" style="left:362.5px">E</div>
<div class="ev evE" style="left:406.5px">E</div>
<div class="ev evE" style="left:422.3px">E</div>
<div class="ev evE" style="left:528.2px">E</div>
<div class="ev evE" style="left:544.5px">E</div>

<!-- time labels -->
<div class="tl" style="left:61px;top:501px;text-align:left">10:15<br>12/19/2018</div>
<div class="tl" style="left:158.7px;top:501px;width:30px">14:00</div>
<div class="tl" style="left:234.4px;top:501px;width:30px">16:30</div>
<div class="tl" style="left:310.1px;top:501px;width:30px">19:00</div>
<div class="tl" style="left:385.8px;top:501px;width:30px">21:30</div>
<div class="tl" style="left:461.5px;top:501px;width:30px">00:00<br>20</div>
<div class="tl" style="left:537.2px;top:501px;width:30px">02:30<br>20</div>

<!-- bottom pane -->
<div class="a" style="left:61px;top:532px;font-size:12px;color:#333">Moving Average Convergence Divergence <i>(close,12,26,9)</i></div>
<svg style="position:absolute;left:360px;top:526px" width="298" height="15" viewBox="360 526 298 15">
<g fill="none" stroke="#dcdcdc" stroke-width="1.5">
<path d="M373,539 Q381,531.5 389,539 Q381,546.5 373,539 Z"/><circle cx="381" cy="539" r="2.4"/>
<path d="M406,535 L414,543 M414,535 L406,543" stroke-width="1.8"/>
</g>
<path fill="#dcdcdc" fill-rule="evenodd" d="M396.61,535.30 L396.77,534.05 L398.23,534.05 L398.39,535.30 L399.49,535.76 L400.48,534.99 L401.51,536.02 L400.74,537.01 L401.20,538.11 L402.45,538.27 L402.45,539.73 L401.20,539.89 L400.74,540.99 L401.51,541.98 L400.48,543.01 L399.49,542.24 L398.39,542.70 L398.23,543.95 L396.77,543.95 L396.61,542.70 L395.51,542.24 L394.52,543.01 L393.49,541.98 L394.26,540.99 L393.80,539.89 L392.55,539.73 L392.55,538.27 L393.80,538.11 L394.26,537.01 L393.49,536.02 L394.52,534.99 L395.51,535.76 Z M399.40,539.00 A1.90,1.90 0 1 0 395.60,539.00 A1.90,1.90 0 1 0 399.40,539.00 Z"/>
<rect x="422.5" y="535" width="1.2" height="1.2" fill="#777"/>
<path d="M553,536 L562,536 L557.5,543 Z" fill="#e8e8e8"/>
<line x1="570" y1="541" x2="584" y2="531" stroke="#6a9be0" stroke-width="1.1"/>
<rect x="583.5" y="533.5" width="8" height="9" fill="none" stroke="#e0e0e0" stroke-width="1"/>
<path d="M600.5,533.5 L603,526 L658,526 L658,541 L600.5,541 Z" fill="#4a88e8"/>
</svg>
<div style="position:absolute;left:600px;top:524px;width:58px;height:10px;overflow:hidden">
<div class="a b" style="left:17.5px;top:0.5px;font-size:12px;color:#eef4ff">0.0649</div>
</div>
</body></html>
